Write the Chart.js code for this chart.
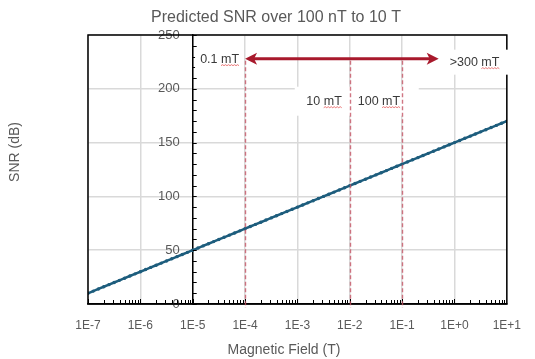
<!DOCTYPE html>
<html>
<head>
<meta charset="utf-8">
<script src="https://cdn.jsdelivr.net/npm/chart.js@4.4.1/dist/chart.umd.min.js"></script>
<style>
  html, body { margin: 0; padding: 0; background: #ffffff; }
  #wrap { width: 535px; height: 359px; position: relative; }
</style>
</head>
<body>
<div id="wrap"><canvas id="snrChart"></canvas></div>
<script>
// Data
const fieldT = [
  1.00e-7, 1.26e-7, 1.58e-7, 2.00e-7, 2.51e-7, 3.16e-7, 3.98e-7, 5.01e-7, 6.31e-7, 7.94e-7,
  1.00e-6, 1.26e-6, 1.58e-6, 2.00e-6, 2.51e-6, 3.16e-6, 3.98e-6, 5.01e-6, 6.31e-6, 7.94e-6,
  1.00e-5, 1.26e-5, 1.58e-5, 2.00e-5, 2.51e-5, 3.16e-5, 3.98e-5, 5.01e-5, 6.31e-5, 7.94e-5,
  1.00e-4, 1.26e-4, 1.58e-4, 2.00e-4, 2.51e-4, 3.16e-4, 3.98e-4, 5.01e-4, 6.31e-4, 7.94e-4,
  1.00e-3, 1.26e-3, 1.58e-3, 2.00e-3, 2.51e-3, 3.16e-3, 3.98e-3, 5.01e-3, 6.31e-3, 7.94e-3,
  1.00e-2, 1.26e-2, 1.58e-2, 2.00e-2, 2.51e-2, 3.16e-2, 3.98e-2, 5.01e-2, 6.31e-2, 7.94e-2,
  1.00e-1, 1.26e-1, 1.58e-1, 2.00e-1, 2.51e-1, 3.16e-1, 3.98e-1, 5.01e-1, 6.31e-1, 7.94e-1,
  1.00, 1.26, 1.58, 2.00, 2.51, 3.16, 3.98, 5.01, 6.31, 7.94,
  10.0
];
const snrDb = [
  10, 12, 14, 16, 18, 20, 22, 24, 26, 28,
  30, 32, 34, 36, 38, 40, 42, 44, 46, 48,
  50, 52, 54, 56, 58, 60, 62, 64, 66, 68,
  70, 72, 74, 76, 78, 80, 82, 84, 86, 88,
  90, 92, 94, 96, 98, 100, 102, 104, 106, 108,
  110, 112, 114, 116, 118, 120, 122, 124, 126, 128,
  130, 132, 134, 136, 138, 140, 142, 144, 146, 148,
  150, 152, 154, 156, 158, 160, 162, 164, 166, 168,
  170
];
const xTickValues = [1e-7, 1e-6, 1e-5, 1e-4, 1e-3, 1e-2, 1e-1, 1, 10];
const xTickLabels = ['1E-7', '1E-6', '1E-5', '1E-4', '1E-3', '1E-2', '1E-1', '1E+0', '1E+1'];
const yTickLabels = ['0', '50', '100', '150', '200', '250'];

// Annotations
const markerFieldsT = [1e-4, 1e-2, 1e-1];
const markerLabels = ['0.1 mT', '10 mT', '100 mT'];
const arrowFieldsT = [1e-4, 0.5];
const arrowSnr = 228;
const arrowEndLabel = '>300 mT';

const chartTitle = 'Predicted SNR over 100 nT to 10 T';
const xTitle = 'Magnetic Field (T)';
const yTitle = 'SNR (dB)';

const textGrey = '#595959';
const labelDark = '#3a3a3a';
const lineBlue = '#1d5d7d';
const markRed = '#a8192c';
const dashRed = 'rgba(196, 84, 100, 0.8)';
const gridGrey = '#d9d9d9';
const fontFam = "'Liberation Sans', Arial, sans-serif";

const points = fieldT.map((f, i) => ({ x: f, y: snrDb[i] }));

function squiggle(ctx, x0, x1, y) {
  ctx.save();
  ctx.strokeStyle = 'rgba(225, 60, 60, 0.85)';
  ctx.lineWidth = 0.8;
  ctx.beginPath();
  ctx.moveTo(x0, y);
  let up = true;
  for (let x = x0 + 1.5; x <= x1; x += 1.5) {
    ctx.lineTo(x, up ? y - 1 : y);
    up = !up;
  }
  ctx.stroke();
  ctx.restore();
}

// label with spell-check underline under the "mT" part
function mtLabel(ctx, text, x, y) {
  ctx.textAlign = 'left';
  ctx.textBaseline = 'middle';
  ctx.fillStyle = labelDark;
  ctx.fillText(text, x, y);
  const full = ctx.measureText(text).width;
  const mt = ctx.measureText('mT').width;
  squiggle(ctx, x + full - mt, x + full, y + 6);
}

const decorPlugin = {
  id: 'decor',
  afterDatasetsDraw(chart) {
    const { ctx, chartArea: a, scales: { x, y } } = chart;
    ctx.save();

    // frame
    ctx.strokeStyle = '#000';
    ctx.lineWidth = 1.5;
    ctx.strokeRect(a.left, a.top, a.right - a.left, a.bottom - a.top);

    // log minor ticks along the bottom, pointing up
    ctx.lineWidth = 1;
    ctx.beginPath();
    for (let d = -7; d <= 0; d++) {
      for (let m = 1; m <= 9; m++) {
        const px = Math.round(x.getPixelForValue(m * Math.pow(10, d))) + 0.5;
        ctx.moveTo(px, a.bottom);
        ctx.lineTo(px, a.bottom - (m === 1 ? 5 : 4));
      }
    }
    // y minor ticks on the crossing axis, pointing right
    const axisX = x.getPixelForValue(1e-5);
    for (let v = 0; v <= 250; v += 10) {
      const py = Math.round(y.getPixelForValue(v)) + 0.5;
      ctx.moveTo(axisX, py);
      ctx.lineTo(axisX + 4, py);
    }
    ctx.stroke();

    const ay = y.getPixelForValue(arrowSnr);
    const ax0 = x.getPixelForValue(arrowFieldsT[0]);
    const ax1 = x.getPixelForValue(arrowFieldsT[1]);
    const m1 = x.getPixelForValue(markerFieldsT[1]);
    const m2 = x.getPixelForValue(markerFieldsT[2]);
    const ly = y.getPixelForValue(188);

    // white label boxes
    ctx.fillStyle = '#fff';
    ctx.fillRect(ax0 - 50, ay - 11, 48, 23);
    ctx.fillRect(ax1 + 6, ay - 9, 76, 25);
    ctx.fillRect(m1 - 55, ly - 15, 124, 29);

    // dashed markers
    ctx.strokeStyle = dashRed;
    ctx.lineWidth = 1.4;
    ctx.setLineDash([4, 2.5]);
    markerFieldsT.forEach(f => {
      const px = Math.round(x.getPixelForValue(f)) + 0.5;
      ctx.beginPath();
      ctx.moveTo(px, ay + 2);
      ctx.lineTo(px, a.bottom + 4);
      ctx.stroke();
    });
    ctx.setLineDash([]);

    // double-headed arrow
    ctx.strokeStyle = markRed;
    ctx.fillStyle = markRed;
    ctx.lineWidth = 3;
    ctx.beginPath();
    ctx.moveTo(ax0 + 8, ay);
    ctx.lineTo(ax1 - 8, ay);
    ctx.stroke();
    [[ax0, 1], [ax1, -1]].forEach(([tip, dir]) => {
      ctx.beginPath();
      ctx.moveTo(tip, ay);
      ctx.lineTo(tip + dir * 12, ay - 6);
      ctx.lineTo(tip + dir * 9, ay);
      ctx.lineTo(tip + dir * 12, ay + 6);
      ctx.closePath();
      ctx.fill();
    });

    // annotation labels
    ctx.font = "12.5px " + fontFam;
    const w0 = ctx.measureText(markerLabels[0]).width;
    mtLabel(ctx, markerLabels[0], ax0 - 6 - w0, ay + 1);
    const w1 = ctx.measureText(markerLabels[1]).width;
    mtLabel(ctx, markerLabels[1], m1 - 8 - w1, ly);
    const w2 = ctx.measureText(markerLabels[2]).width;
    mtLabel(ctx, markerLabels[2], m2 - 2 - w2, ly);
    mtLabel(ctx, arrowEndLabel, ax1 + 11, ay + 4);

    // titles
    ctx.fillStyle = textGrey;
    ctx.textAlign = 'center';
    ctx.textBaseline = 'middle';
    ctx.font = "16px " + fontFam;
    ctx.fillText(chartTitle, 276, 18);
    ctx.font = "14px " + fontFam;
    ctx.fillText(xTitle, 284, 350);
    ctx.translate(15, 152);
    ctx.rotate(-Math.PI / 2);
    ctx.fillText(yTitle, 0, 0);

    ctx.restore();
  }
};

new Chart(document.getElementById('snrChart'), {
  type: 'scatter',
  data: {
    datasets: [{
      label: 'SNR',
      data: points,
      showLine: true,
      borderColor: lineBlue,
      borderWidth: 2.5,
      backgroundColor: lineBlue,
      pointRadius: 1.7,
      pointBorderWidth: 0,
      tension: 0
    }]
  },
  options: {
    responsive: true,
    maintainAspectRatio: false,
    animation: false,
    devicePixelRatio: 1,
    layout: { padding: { left: 88, right: 21, top: 35, bottom: 0 } },
    plugins: {
      legend: { display: false },
      tooltip: { enabled: false },
      title: { display: false }
    },
    scales: {
      x: {
        type: 'logarithmic',
        min: 1e-7,
        max: 10,
        afterBuildTicks: axis => { axis.ticks = xTickValues.map(v => ({ value: v })); },
        afterFit: axis => { axis.height = 55; },
        grid: { color: gridGrey, lineWidth: 1.5, drawTicks: false },
        border: { color: '#000', width: 1.5 },
        ticks: {
          autoSkip: false,
          maxRotation: 0,
          padding: 14,
          color: textGrey,
          font: { family: fontFam, size: 12 },
          callback: (v, i) => xTickLabels[i]
        }
      },
      y: {
        type: 'linear',
        min: 0,
        max: 250,
        position: { x: 1e-5 },
        // the crossing axis sits inside the plot, so it should take no width
        afterFit: axis => { axis.width = 0; },
        grid: { color: gridGrey, lineWidth: 1.5, drawTicks: false },
        border: { color: '#000', width: 1.5 },
        ticks: {
          stepSize: 50,
          color: textGrey,
          font: { family: fontFam, size: 13 },
          // the crossing axis gets no tick padding, so pad the label text
          callback: (v, i) => yTickLabels[i] + '\u2003'
        }
      }
    }
  },
  plugins: [decorPlugin]
});
</script>
</body>
</html>
